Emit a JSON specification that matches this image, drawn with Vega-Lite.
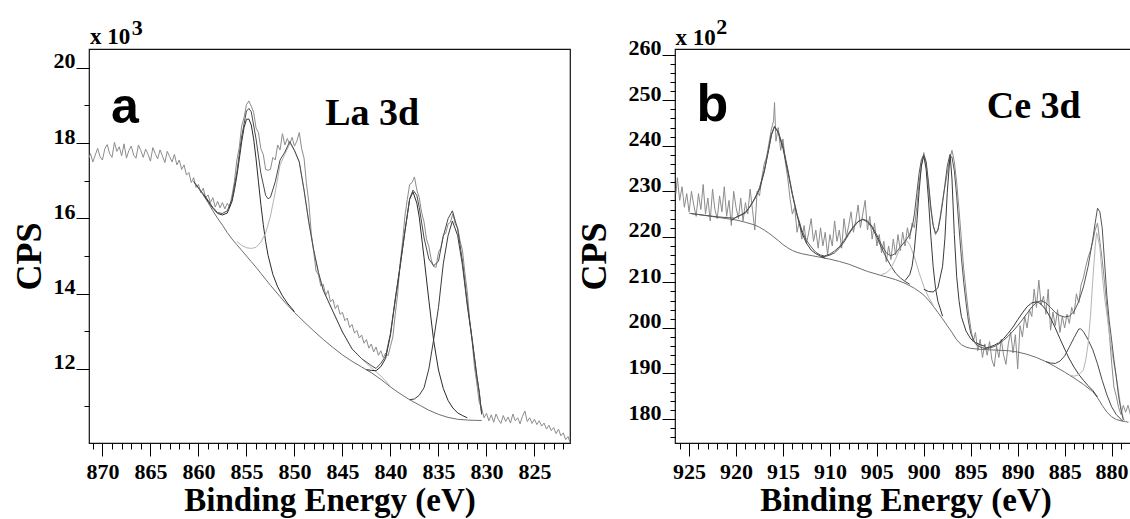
{
  "$schema": "https://vega.github.io/schema/vega-lite/v6.json",
  "background": "white",
  "padding": {"left": 10, "top": 15, "right": 0, "bottom": 0},
  "spacing": 2,
  "resolve": {"scale": {"color": "independent"}},
  "config": {
    "view": {"stroke": "#111", "strokeWidth": 1.2},
    "axis": {
      "labelFont": "Liberation Serif", "labelFontWeight": "bold", "labelFontSize": 22, "labelColor": "#000",
      "titleFont": "Liberation Serif", "titleFontWeight": "bold", "titleColor": "#000",
      "tickColor": "#000", "tickWidth": 1, "grid": false, "domain": false,
      "labelOverlap": false, "labelFlush": false, "tickCount": 200, "format": "d"
    }
  },
  "datasets": {
    "aRaw": [
      {"e":871.4,"v":17.6},{"e":871.25,"v":17.72},{"e":871,"v":17.5},{"e":870.75,"v":17.68},{"e":870.5,"v":17.86},{"e":870.25,"v":17.64},{"e":870,"v":17.55},{"e":869.75,"v":17.85},{"e":869.5,"v":17.96},{"e":869.25,"v":17.72},{"e":869,"v":17.62},{"e":868.75,"v":18.02},{"e":868.5,"v":17.78},{"e":868.25,"v":17.9},{"e":868,"v":17.66},{"e":867.75,"v":17.98},{"e":867.5,"v":17.6},{"e":867.25,"v":17.8},{"e":867,"v":17.92},{"e":866.75,"v":17.68},{"e":866.5,"v":17.6},{"e":866.25,"v":17.95},{"e":866,"v":17.8},{"e":865.75,"v":17.62},{"e":865.5,"v":17.84},{"e":865.25,"v":17.7},{"e":865,"v":17.52},{"e":864.75,"v":17.88},{"e":864.5,"v":17.72},{"e":864.25,"v":17.58},{"e":864,"v":17.82},{"e":863.75,"v":17.66},{"e":863.5,"v":17.48},{"e":863.25,"v":17.78},{"e":863,"v":17.64},{"e":862.75,"v":17.5},{"e":862.5,"v":17.7},{"e":862.25,"v":17.42},{"e":862,"v":17.55},{"e":861.75,"v":17.3},{"e":861.5,"v":17.42},{"e":861.25,"v":17.15},{"e":861,"v":17.22},{"e":860.75,"v":16.95},{"e":860.5,"v":17.08},{"e":860.25,"v":16.82},{"e":860,"v":16.9},{"e":859.75,"v":16.68},{"e":859.5,"v":16.8},{"e":859.25,"v":16.55},{"e":859,"v":16.62},{"e":858.75,"v":16.42},{"e":858.5,"v":16.55},{"e":858.25,"v":16.3},{"e":858,"v":16.45},{"e":857.75,"v":16.28},{"e":857.5,"v":16.42},{"e":857.25,"v":16.25},{"e":857,"v":16.4},{"e":856.75,"v":16.3},{"e":856.5,"v":16.62},{"e":856.25,"v":16.98},{"e":856,"v":17.55},{"e":855.75,"v":17.88},{"e":855.5,"v":18.45},{"e":855.25,"v":18.68},{"e":855,"v":19.02},{"e":854.75,"v":19.12},{"e":854.5,"v":18.98},{"e":854.25,"v":18.82},{"e":854,"v":18.4},{"e":853.75,"v":18.28},{"e":853.5,"v":17.85},{"e":853.25,"v":17.7},{"e":853,"v":17.3},{"e":852.75,"v":17.28},{"e":852.5,"v":17.3},{"e":852.25,"v":17.62},{"e":852,"v":17.55},{"e":851.75,"v":17.95},{"e":851.5,"v":17.82},{"e":851.25,"v":18.25},{"e":851,"v":17.95},{"e":850.75,"v":18.12},{"e":850.5,"v":17.98},{"e":850.25,"v":18.15},{"e":850,"v":17.92},{"e":849.75,"v":18.05},{"e":849.5,"v":18.28},{"e":849.25,"v":17.85},{"e":849,"v":17.6},{"e":848.75,"v":16.92},{"e":848.5,"v":16.42},{"e":848.25,"v":15.6},{"e":848,"v":15.12},{"e":847.75,"v":14.6},{"e":847.5,"v":14.5},{"e":847.25,"v":14.2},{"e":847,"v":14.25},{"e":846.75,"v":13.95},{"e":846.5,"v":14.08},{"e":846.25,"v":13.78},{"e":846,"v":13.85},{"e":845.75,"v":13.6},{"e":845.5,"v":13.7},{"e":845.25,"v":13.45},{"e":845,"v":13.5},{"e":844.75,"v":13.28},{"e":844.5,"v":13.35},{"e":844.25,"v":13.1},{"e":844,"v":13.18},{"e":843.75,"v":12.95},{"e":843.5,"v":13.02},{"e":843.25,"v":12.82},{"e":843,"v":12.9},{"e":842.75,"v":12.68},{"e":842.5,"v":12.78},{"e":842.25,"v":12.55},{"e":842,"v":12.66},{"e":841.75,"v":12.45},{"e":841.5,"v":12.58},{"e":841.25,"v":12.36},{"e":841,"v":12.48},{"e":840.75,"v":12.3},{"e":840.5,"v":12.42},{"e":840.25,"v":12.35},{"e":840,"v":12.6},{"e":839.75,"v":12.85},{"e":839.5,"v":13.45},{"e":839.25,"v":14.0},{"e":839,"v":14.8},{"e":838.75,"v":15.35},{"e":838.5,"v":16.05},{"e":838.25,"v":16.5},{"e":838,"v":16.9},{"e":837.75,"v":16.95},{"e":837.5,"v":17.1},{"e":837.25,"v":16.75},{"e":837,"v":16.55},{"e":836.75,"v":16.15},{"e":836.5,"v":15.9},{"e":836.25,"v":15.45},{"e":836,"v":15.25},{"e":835.75,"v":14.9},{"e":835.5,"v":14.72},{"e":835.25,"v":14.7},{"e":835,"v":15.1},{"e":834.75,"v":15.22},{"e":834.5,"v":15.55},{"e":834.25,"v":15.6},{"e":834,"v":15.85},{"e":833.75,"v":15.9},{"e":833.5,"v":16.12},{"e":833.25,"v":15.85},{"e":833,"v":15.75},{"e":832.75,"v":15.4},{"e":832.5,"v":15.15},{"e":832.25,"v":14.55},{"e":832,"v":14.05},{"e":831.75,"v":13.3},{"e":831.5,"v":12.75},{"e":831.25,"v":12.05},{"e":831,"v":11.6},{"e":830.75,"v":11.1},{"e":830.5,"v":10.95},{"e":830.25,"v":10.7},{"e":830,"v":10.82},{"e":829.75,"v":10.62},{"e":829.5,"v":10.78},{"e":829.25,"v":10.58},{"e":829,"v":10.8},{"e":828.75,"v":10.65},{"e":828.5,"v":10.55},{"e":828.25,"v":10.76},{"e":828,"v":10.6},{"e":827.75,"v":10.72},{"e":827.5,"v":10.56},{"e":827.25,"v":10.8},{"e":827,"v":10.62},{"e":826.75,"v":10.7},{"e":826.5,"v":10.54},{"e":826.25,"v":10.74},{"e":826,"v":10.88},{"e":825.75,"v":10.6},{"e":825.5,"v":10.7},{"e":825.25,"v":10.55},{"e":825,"v":10.66},{"e":824.75,"v":10.52},{"e":824.5,"v":10.62},{"e":824.25,"v":10.48},{"e":824,"v":10.56},{"e":823.75,"v":10.4},{"e":823.5,"v":10.5},{"e":823.25,"v":10.36},{"e":823,"v":10.44},{"e":822.75,"v":10.28},{"e":822.5,"v":10.4},{"e":822.25,"v":10.22},{"e":822,"v":10.3},{"e":821.75,"v":10.12},{"e":821.5,"v":10.2},{"e":821.3,"v":10.05}
    ],
    "aFit": [
      {"s":"bg","e":860.5,"v":16.98},{"s":"bg","e":860,"v":16.8},{"s":"bg","e":859.5,"v":16.62},{"s":"bg","e":859,"v":16.42},{"s":"bg","e":858.5,"v":16.2},{"s":"bg","e":858,"v":16.0},{"s":"bg","e":857.5,"v":15.82},{"s":"bg","e":857,"v":15.62},{"s":"bg","e":856.5,"v":15.45},{"s":"bg","e":856,"v":15.3},{"s":"bg","e":855.5,"v":15.15},{"s":"bg","e":855,"v":15.0},{"s":"bg","e":854.5,"v":14.85},{"s":"bg","e":854,"v":14.7},{"s":"bg","e":853.5,"v":14.54},{"s":"bg","e":853,"v":14.38},{"s":"bg","e":852.5,"v":14.22},{"s":"bg","e":852,"v":14.07},{"s":"bg","e":851.5,"v":13.92},{"s":"bg","e":851,"v":13.77},{"s":"bg","e":850,"v":13.5},{"s":"bg","e":849,"v":13.25},{"s":"bg","e":848,"v":13.01},{"s":"bg","e":847,"v":12.78},{"s":"bg","e":846,"v":12.57},{"s":"bg","e":845,"v":12.37},{"s":"bg","e":844,"v":12.2},{"s":"bg","e":843,"v":12.05},{"s":"bg","e":842,"v":11.9},{"s":"bg","e":841,"v":11.72},{"s":"bg","e":840,"v":11.52},{"s":"bg","e":839,"v":11.34},{"s":"bg","e":838,"v":11.18},{"s":"bg","e":837,"v":11.04},{"s":"bg","e":836,"v":10.9},{"s":"bg","e":835,"v":10.79},{"s":"bg","e":834,"v":10.71},{"s":"bg","e":833,"v":10.66},{"s":"bg","e":832,"v":10.64},{"s":"bg","e":831,"v":10.63},{"s":"bg","e":830.5,"v":10.63},
      {"s":"p1","e":859.5,"v":16.64},{"s":"p1","e":858.5,"v":16.27},{"s":"p1","e":858,"v":16.13},{"s":"p1","e":857.5,"v":16.09},{"s":"p1","e":857,"v":16.14},{"s":"p1","e":856.5,"v":16.45},{"s":"p1","e":856.25,"v":16.76},{"s":"p1","e":856,"v":17.13},{"s":"p1","e":855.75,"v":17.57},{"s":"p1","e":855.5,"v":18.03},{"s":"p1","e":855.25,"v":18.41},{"s":"p1","e":855,"v":18.63},{"s":"p1","e":854.75,"v":18.64},{"s":"p1","e":854.5,"v":18.48},{"s":"p1","e":854.25,"v":18.11},{"s":"p1","e":854,"v":17.58},{"s":"p1","e":853.75,"v":16.97},{"s":"p1","e":853.5,"v":16.37},{"s":"p1","e":853.25,"v":15.84},{"s":"p1","e":853,"v":15.38},{"s":"p1","e":852.75,"v":15.02},{"s":"p1","e":852.25,"v":14.51},{"s":"p1","e":851.75,"v":14.18},{"s":"p1","e":851.25,"v":13.94},{"s":"p1","e":850.75,"v":13.75},{"s":"p1","e":850,"v":13.52},
      {"s":"p2","e":856,"v":15.39},{"s":"p2","e":855.5,"v":15.28},{"s":"p2","e":855,"v":15.22},{"s":"p2","e":854.5,"v":15.2},{"s":"p2","e":854,"v":15.23},{"s":"p2","e":853.5,"v":15.37},{"s":"p2","e":853,"v":15.61},{"s":"p2","e":852.5,"v":16.06},{"s":"p2","e":852,"v":16.7},{"s":"p2","e":851.5,"v":17.42},{"s":"p2","e":851,"v":17.7},{"s":"p2","e":850.45,"v":18.0},{"s":"p2","e":850,"v":17.79},{"s":"p2","e":849.5,"v":17.5},{"s":"p2","e":849,"v":16.75},{"s":"p2","e":848.5,"v":15.89},{"s":"p2","e":848,"v":15.16},{"s":"p2","e":847.5,"v":14.56},{"s":"p2","e":847,"v":14.09},{"s":"p2","e":846.5,"v":13.81},{"s":"p2","e":846,"v":13.53},{"s":"p2","e":845,"v":12.98},{"s":"p2","e":844,"v":12.53},{"s":"p2","e":843,"v":12.27},{"s":"p2","e":842,"v":12.03},{"s":"p2","e":841,"v":11.81},{"s":"p2","e":840,"v":11.54},
      {"s":"p3","e":842.5,"v":11.98},{"s":"p3","e":842,"v":11.96},{"s":"p3","e":841.5,"v":11.95},{"s":"p3","e":841,"v":12.06},{"s":"p3","e":840.5,"v":12.28},{"s":"p3","e":840,"v":12.9},{"s":"p3","e":839.5,"v":13.83},{"s":"p3","e":839,"v":14.71},{"s":"p3","e":838.5,"v":15.64},{"s":"p3","e":838,"v":16.51},{"s":"p3","e":837.65,"v":16.7},{"s":"p3","e":837.25,"v":16.4},{"s":"p3","e":837,"v":16.03},{"s":"p3","e":836.5,"v":14.95},{"s":"p3","e":836,"v":13.82},{"s":"p3","e":835.5,"v":12.75},{"s":"p3","e":835,"v":11.97},{"s":"p3","e":834.5,"v":11.48},{"s":"p3","e":834,"v":11.16},{"s":"p3","e":833.5,"v":10.96},{"s":"p3","e":833,"v":10.83},{"s":"p3","e":832.5,"v":10.76},{"s":"p3","e":832,"v":10.7},
      {"s":"p4","e":838,"v":11.18},{"s":"p4","e":837.5,"v":11.2},{"s":"p4","e":837,"v":11.3},{"s":"p4","e":836.5,"v":11.5},{"s":"p4","e":836,"v":12.0},{"s":"p4","e":835.5,"v":12.78},{"s":"p4","e":835,"v":13.63},{"s":"p4","e":834.5,"v":14.79},{"s":"p4","e":834,"v":15.54},{"s":"p4","e":833.55,"v":15.93},{"s":"p4","e":833,"v":15.54},{"s":"p4","e":832.5,"v":14.75},{"s":"p4","e":832,"v":13.69},{"s":"p4","e":831.5,"v":12.78},{"s":"p4","e":831,"v":11.79},{"s":"p4","e":830.75,"v":11.37},{"s":"p4","e":830.5,"v":10.79},
      {"s":"env","e":860.5,"v":16.98},{"s":"env","e":860,"v":16.81},{"s":"env","e":859.5,"v":16.65},{"s":"env","e":859,"v":16.48},{"s":"env","e":858.5,"v":16.29},{"s":"env","e":858,"v":16.15},{"s":"env","e":857.5,"v":16.13},{"s":"env","e":857,"v":16.2},{"s":"env","e":856.5,"v":16.51},{"s":"env","e":856,"v":17.22},{"s":"env","e":855.5,"v":18.16},{"s":"env","e":855,"v":18.85},{"s":"env","e":854.75,"v":18.92},{"s":"env","e":854.5,"v":18.83},{"s":"env","e":854,"v":18.11},{"s":"env","e":853.5,"v":17.2},{"s":"env","e":853,"v":16.61},{"s":"env","e":852.75,"v":16.52},{"s":"env","e":852.5,"v":16.56},{"s":"env","e":852,"v":16.97},{"s":"env","e":851.5,"v":17.55},{"s":"env","e":851,"v":17.76},{"s":"env","e":850.5,"v":18.04},{"s":"env","e":850,"v":17.81},{"s":"env","e":849.5,"v":17.5},{"s":"env","e":849,"v":16.75},{"s":"env","e":848.5,"v":15.89},{"s":"env","e":848,"v":15.16},{"s":"env","e":847.5,"v":14.56},{"s":"env","e":847,"v":14.09},{"s":"env","e":846.5,"v":13.81},{"s":"env","e":846,"v":13.53},{"s":"env","e":845,"v":12.98},{"s":"env","e":844,"v":12.53},{"s":"env","e":843,"v":12.27},{"s":"env","e":842,"v":12.09},{"s":"env","e":841.5,"v":12.01},{"s":"env","e":841,"v":12.15},{"s":"env","e":840.5,"v":12.34},{"s":"env","e":840,"v":12.94},{"s":"env","e":839.5,"v":13.86},{"s":"env","e":839,"v":14.73},{"s":"env","e":838.5,"v":15.65},{"s":"env","e":838,"v":16.52},{"s":"env","e":837.65,"v":16.75},{"s":"env","e":837.25,"v":16.61},{"s":"env","e":837,"v":16.29},{"s":"env","e":836.5,"v":15.48},{"s":"env","e":836,"v":14.92},{"s":"env","e":835.5,"v":14.74},{"s":"env","e":835,"v":14.86},{"s":"env","e":834.5,"v":15.52},{"s":"env","e":834,"v":15.99},{"s":"env","e":833.55,"v":16.2},{"s":"env","e":833,"v":15.71},{"s":"env","e":832.5,"v":14.86},{"s":"env","e":832,"v":13.75},{"s":"env","e":831.5,"v":12.81},{"s":"env","e":831,"v":11.81},{"s":"env","e":830.75,"v":11.38},{"s":"env","e":830.5,"v":10.8}
    ],
    "bRaw": [
      {"e":926.4,"v":229.5},{"e":926.25,"v":233.0},{"e":926,"v":228.0},{"e":925.75,"v":231.0},{"e":925.5,"v":226.5},{"e":925.25,"v":229.5},{"e":925,"v":225.5},{"e":924.75,"v":230.0},{"e":924.5,"v":227.0},{"e":924.25,"v":224.5},{"e":924,"v":229.5},{"e":923.75,"v":226.0},{"e":923.5,"v":231.5},{"e":923.25,"v":225.0},{"e":923,"v":228.5},{"e":922.75,"v":223.5},{"e":922.5,"v":230.5},{"e":922.25,"v":226.0},{"e":922,"v":224.0},{"e":921.75,"v":229.0},{"e":921.5,"v":225.5},{"e":921.25,"v":231.0},{"e":921,"v":224.5},{"e":920.75,"v":228.0},{"e":920.5,"v":222.5},{"e":920.25,"v":230.0},{"e":920,"v":226.5},{"e":919.75,"v":224.0},{"e":919.5,"v":228.5},{"e":919.25,"v":223.5},{"e":919,"v":227.5},{"e":918.75,"v":225.0},{"e":918.5,"v":230.5},{"e":918.25,"v":226.0},{"e":918,"v":221.5},{"e":917.75,"v":230.0},{"e":917.5,"v":229.0},{"e":917.25,"v":233.0},{"e":917,"v":236.0},{"e":916.75,"v":237.5},{"e":916.5,"v":240.5},{"e":916.25,"v":243.5},{"e":916,"v":245.5},{"e":915.9,"v":249.5},{"e":915.75,"v":241.0},{"e":915.5,"v":244.0},{"e":915.25,"v":239.0},{"e":915,"v":241.5},{"e":914.75,"v":236.5},{"e":914.5,"v":233.0},{"e":914.25,"v":228.5},{"e":914,"v":225.0},{"e":913.75,"v":226.5},{"e":913.5,"v":221.0},{"e":913.25,"v":223.5},{"e":913,"v":219.5},{"e":912.75,"v":222.5},{"e":912.5,"v":218.5},{"e":912.25,"v":221.0},{"e":912,"v":224.0},{"e":911.75,"v":219.0},{"e":911.5,"v":221.5},{"e":911.25,"v":217.5},{"e":911,"v":222.0},{"e":910.75,"v":218.0},{"e":910.5,"v":221.0},{"e":910.25,"v":216.0},{"e":910,"v":220.5},{"e":909.75,"v":218.0},{"e":909.5,"v":223.5},{"e":909.25,"v":219.0},{"e":909,"v":221.5},{"e":908.75,"v":217.5},{"e":908.5,"v":224.0},{"e":908.25,"v":220.0},{"e":908,"v":222.5},{"e":907.75,"v":225.5},{"e":907.5,"v":221.0},{"e":907.25,"v":223.5},{"e":907,"v":227.0},{"e":906.75,"v":222.0},{"e":906.5,"v":225.0},{"e":906.25,"v":228.0},{"e":906,"v":221.5},{"e":905.75,"v":224.5},{"e":905.5,"v":219.5},{"e":905.25,"v":223.0},{"e":905,"v":218.0},{"e":904.75,"v":220.5},{"e":904.5,"v":216.5},{"e":904.25,"v":219.0},{"e":904,"v":214.5},{"e":903.75,"v":218.0},{"e":903.5,"v":215.0},{"e":903.25,"v":219.5},{"e":903,"v":216.0},{"e":902.75,"v":220.5},{"e":902.5,"v":217.0},{"e":902.25,"v":221.0},{"e":902,"v":218.0},{"e":901.75,"v":222.0},{"e":901.5,"v":219.5},{"e":901.25,"v":223.0},{"e":901,"v":222.0},{"e":900.75,"v":226.5},{"e":900.5,"v":232.0},{"e":900.25,"v":235.5},{"e":900,"v":238.5},{"e":899.75,"v":236.0},{"e":899.5,"v":231.0},{"e":899.25,"v":226.0},{"e":899,"v":222.5},{"e":898.75,"v":220.5},{"e":898.5,"v":221.5},{"e":898.25,"v":224.5},{"e":898,"v":228.0},{"e":897.75,"v":231.0},{"e":897.5,"v":234.0},{"e":897.25,"v":237.0},{"e":897,"v":239.0},{"e":896.75,"v":236.5},{"e":896.5,"v":232.0},{"e":896.25,"v":226.0},{"e":896,"v":219.5},{"e":895.75,"v":213.0},{"e":895.5,"v":208.0},{"e":895.25,"v":203.5},{"e":895,"v":200.0},{"e":894.75,"v":197.0},{"e":894.5,"v":199.0},{"e":894.25,"v":195.0},{"e":894,"v":197.5},{"e":893.75,"v":193.5},{"e":893.5,"v":196.5},{"e":893.25,"v":194.0},{"e":893,"v":197.0},{"e":892.75,"v":193.0},{"e":892.5,"v":191.5},{"e":892.25,"v":196.0},{"e":892,"v":193.5},{"e":891.75,"v":197.5},{"e":891.5,"v":194.0},{"e":891.25,"v":192.0},{"e":891,"v":196.5},{"e":890.75,"v":199.0},{"e":890.5,"v":194.5},{"e":890.25,"v":198.5},{"e":890,"v":191.0},{"e":889.75,"v":200.5},{"e":889.5,"v":198.0},{"e":889.25,"v":202.5},{"e":889,"v":200.0},{"e":888.75,"v":204.0},{"e":888.5,"v":202.5},{"e":888.25,"v":208.5},{"e":888,"v":204.5},{"e":887.75,"v":210.5},{"e":887.5,"v":205.0},{"e":887.25,"v":207.0},{"e":887,"v":203.0},{"e":886.75,"v":208.5},{"e":886.5,"v":199.5},{"e":886.25,"v":203.5},{"e":886,"v":200.5},{"e":885.75,"v":204.0},{"e":885.5,"v":199.0},{"e":885.25,"v":202.5},{"e":885,"v":200.0},{"e":884.75,"v":203.0},{"e":884.5,"v":201.0},{"e":884.25,"v":204.5},{"e":884,"v":203.0},{"e":883.75,"v":207.5},{"e":883.5,"v":205.5},{"e":883.25,"v":209.5},{"e":883,"v":211.0},{"e":882.75,"v":213.5},{"e":882.5,"v":215.5},{"e":882.25,"v":217.0},{"e":882,"v":219.0},{"e":881.75,"v":221.5},{"e":881.5,"v":223.0},{"e":881.25,"v":219.0},{"e":881,"v":215.0},{"e":880.75,"v":210.0},{"e":880.5,"v":204.5},{"e":880.25,"v":199.0},{"e":880,"v":192.5},{"e":879.75,"v":187.0},{"e":879.5,"v":185.0},{"e":879.25,"v":182.5},{"e":879,"v":181.0},{"e":878.75,"v":183.0},{"e":878.5,"v":181.5},{"e":878.25,"v":183.0},{"e":878,"v":181.0},{"e":877.75,"v":182.5},{"e":877.5,"v":179.5},{"e":877.3,"v":174.8}
    ],
    "bFit": [
      {"s":"bg","e":925,"v":225.2},{"s":"bg","e":924,"v":224.9},{"s":"bg","e":923,"v":224.6},{"s":"bg","e":922,"v":224.3},{"s":"bg","e":921,"v":224.0},{"s":"bg","e":920,"v":223.7},{"s":"bg","e":919,"v":223.2},{"s":"bg","e":918,"v":222.6},{"s":"bg","e":917.5,"v":222.1},{"s":"bg","e":917,"v":221.5},{"s":"bg","e":916.5,"v":220.8},{"s":"bg","e":916,"v":220.0},{"s":"bg","e":915.5,"v":219.2},{"s":"bg","e":915,"v":218.3},{"s":"bg","e":914.5,"v":217.6},{"s":"bg","e":914,"v":217.0},{"s":"bg","e":913.5,"v":216.6},{"s":"bg","e":913,"v":216.3},{"s":"bg","e":912,"v":215.9},{"s":"bg","e":911,"v":215.5},{"s":"bg","e":910,"v":215.1},{"s":"bg","e":909,"v":214.6},{"s":"bg","e":908,"v":214.0},{"s":"bg","e":907,"v":213.2},{"s":"bg","e":906,"v":212.4},{"s":"bg","e":905,"v":211.8},{"s":"bg","e":904,"v":211.2},{"s":"bg","e":903,"v":210.6},{"s":"bg","e":902,"v":209.8},{"s":"bg","e":901,"v":208.7},{"s":"bg","e":900.5,"v":208.0},{"s":"bg","e":900,"v":207.2},{"s":"bg","e":899.5,"v":206.1},{"s":"bg","e":899,"v":204.8},{"s":"bg","e":898.5,"v":203.4},{"s":"bg","e":898,"v":202.0},{"s":"bg","e":897.5,"v":200.5},{"s":"bg","e":897,"v":199.0},{"s":"bg","e":896.5,"v":197.4},{"s":"bg","e":896,"v":196.3},{"s":"bg","e":895.5,"v":195.8},{"s":"bg","e":895,"v":195.5},{"s":"bg","e":894,"v":195.3},{"s":"bg","e":893,"v":195.2},{"s":"bg","e":892,"v":195.1},{"s":"bg","e":891,"v":195.0},{"s":"bg","e":890,"v":194.7},{"s":"bg","e":889,"v":194.2},{"s":"bg","e":888,"v":193.5},{"s":"bg","e":887,"v":192.6},{"s":"bg","e":886,"v":191.5},{"s":"bg","e":885,"v":190.3},{"s":"bg","e":884,"v":189.0},{"s":"bg","e":883,"v":187.6},{"s":"bg","e":882,"v":186.0},{"s":"bg","e":881.5,"v":184.7},{"s":"bg","e":881,"v":183.0},{"s":"bg","e":880.5,"v":181.5},{"s":"bg","e":880,"v":180.5},{"s":"bg","e":879.5,"v":179.9},{"s":"bg","e":879,"v":179.6},{"s":"bg","e":878.5,"v":179.4},{"s":"bg","e":878.2,"v":179.3},
      {"s":"c1","e":920.5,"v":223.6},{"s":"c1","e":920,"v":224.3},{"s":"c1","e":919.5,"v":224.8},{"s":"c1","e":919,"v":225.4},{"s":"c1","e":918.5,"v":226.6},{"s":"c1","e":918,"v":228.5},{"s":"c1","e":917.5,"v":230.4},{"s":"c1","e":917,"v":234.2},{"s":"c1","e":916.5,"v":239.4},{"s":"c1","e":916.25,"v":242.4},{"s":"c1","e":915.9,"v":244.2},{"s":"c1","e":915.5,"v":242.9},{"s":"c1","e":915,"v":239.4},{"s":"c1","e":914.5,"v":234.5},{"s":"c1","e":914,"v":229.25},{"s":"c1","e":913.5,"v":224.7},{"s":"c1","e":913,"v":220.96},{"s":"c1","e":912.5,"v":218.6},{"s":"c1","e":912,"v":217.1},{"s":"c1","e":911.5,"v":216.3},{"s":"c1","e":911,"v":215.75},{"s":"c1","e":910.5,"v":215.3},
      {"s":"c2","e":911,"v":215.7},{"s":"c2","e":910.5,"v":215.7},{"s":"c2","e":910,"v":216.0},{"s":"c2","e":909.5,"v":216.5},{"s":"c2","e":909,"v":217.5},{"s":"c2","e":908.5,"v":218.85},{"s":"c2","e":908,"v":220.55},{"s":"c2","e":907.5,"v":222.1},{"s":"c2","e":907,"v":223.3},{"s":"c2","e":906.5,"v":223.8},{"s":"c2","e":906,"v":223.3},{"s":"c2","e":905.5,"v":222.0},{"s":"c2","e":905,"v":219.9},{"s":"c2","e":904.5,"v":217.6},{"s":"c2","e":904,"v":215.4},{"s":"c2","e":903.5,"v":213.6},{"s":"c2","e":903,"v":212.0},{"s":"c2","e":902.5,"v":211.0},{"s":"c2","e":902,"v":210.2},{"s":"c2","e":901.5,"v":209.6},
      {"s":"c3","e":904.5,"v":211.75},{"s":"c3","e":904,"v":212.05},{"s":"c3","e":903.5,"v":213.1},{"s":"c3","e":903,"v":215.2},{"s":"c3","e":902.5,"v":217.6},{"s":"c3","e":902,"v":219.1},{"s":"c3","e":901.8,"v":219.1},{"s":"c3","e":901.5,"v":218.3},{"s":"c3","e":901,"v":215.6},{"s":"c3","e":900.5,"v":212.1},{"s":"c3","e":900,"v":209.1},{"s":"c3","e":899.5,"v":206.8},{"s":"c3","e":899,"v":205.0},
      {"s":"c4","e":902,"v":210.4},{"s":"c4","e":901.5,"v":211.7},{"s":"c4","e":901.25,"v":213.55},{"s":"c4","e":901,"v":217.3},{"s":"c4","e":900.75,"v":223.0},{"s":"c4","e":900.5,"v":230.0},{"s":"c4","e":900.25,"v":235.75},{"s":"c4","e":900,"v":237.8},{"s":"c4","e":899.75,"v":234.8},{"s":"c4","e":899.5,"v":228.1},{"s":"c4","e":899.25,"v":220.15},{"s":"c4","e":899,"v":213.4},{"s":"c4","e":898.75,"v":208.7},{"s":"c4","e":898.5,"v":205.85},{"s":"c4","e":898,"v":202.6},
      {"s":"c5","e":900,"v":208.5},{"s":"c5","e":899.5,"v":208.0},{"s":"c5","e":899,"v":207.9},{"s":"c5","e":898.5,"v":208.8},{"s":"c5","e":898,"v":213.55},{"s":"c5","e":897.75,"v":219.7},{"s":"c5","e":897.5,"v":229.8},{"s":"c5","e":897.2,"v":238.1},{"s":"c5","e":897,"v":232.7},{"s":"c5","e":896.75,"v":220.5},{"s":"c5","e":896.5,"v":211.3},{"s":"c5","e":896.25,"v":206.0},{"s":"c5","e":896,"v":202.5},{"s":"c5","e":895.5,"v":199.3},{"s":"c5","e":895,"v":197.6},{"s":"c5","e":894.5,"v":196.8},{"s":"c5","e":894,"v":196.3},{"s":"c5","e":893.5,"v":196.0},
      {"s":"c6","e":893.5,"v":195.55},{"s":"c6","e":893,"v":195.8},{"s":"c6","e":892.5,"v":196.2},{"s":"c6","e":892,"v":196.75},{"s":"c6","e":891.5,"v":197.66},{"s":"c6","e":891,"v":198.85},{"s":"c6","e":890.5,"v":200.2},{"s":"c6","e":890,"v":201.8},{"s":"c6","e":889.5,"v":203.3},{"s":"c6","e":889,"v":204.65},{"s":"c6","e":888.5,"v":205.5},{"s":"c6","e":888,"v":205.74},{"s":"c6","e":887.8,"v":205.6},{"s":"c6","e":887.5,"v":205.2},{"s":"c6","e":887,"v":204.0},{"s":"c6","e":886.5,"v":202.2},{"s":"c6","e":886,"v":200.0},{"s":"c6","e":885.5,"v":197.65},{"s":"c6","e":885,"v":195.36},{"s":"c6","e":884.5,"v":193.2},{"s":"c6","e":884,"v":191.4},{"s":"c6","e":883.5,"v":189.8},{"s":"c6","e":883,"v":188.5},{"s":"c6","e":882.5,"v":187.3},{"s":"c6","e":882,"v":186.27},{"s":"c6","e":881.5,"v":184.8},
      {"s":"c7","e":887,"v":192.6},{"s":"c7","e":886.5,"v":192.3},{"s":"c7","e":886,"v":192.2},{"s":"c7","e":885.5,"v":192.7},{"s":"c7","e":885,"v":193.85},{"s":"c7","e":884.5,"v":195.8},{"s":"c7","e":884,"v":197.85},{"s":"c7","e":883.5,"v":199.75},{"s":"c7","e":883.3,"v":199.8},{"s":"c7","e":883,"v":199.2},{"s":"c7","e":882.5,"v":197.4},{"s":"c7","e":882,"v":195.2},{"s":"c7","e":881.5,"v":192.1},{"s":"c7","e":881,"v":188.5},{"s":"c7","e":880.5,"v":185.3},{"s":"c7","e":880,"v":182.7},{"s":"c7","e":879.5,"v":180.95},{"s":"c7","e":879,"v":179.95},{"s":"c7","e":878.8,"v":179.5},
      {"s":"c8","e":884.5,"v":189.65},{"s":"c8","e":884,"v":189.4},{"s":"c8","e":883.5,"v":189.7},{"s":"c8","e":883,"v":190.8},{"s":"c8","e":882.75,"v":193.0},{"s":"c8","e":882.5,"v":196.5},{"s":"c8","e":882.25,"v":202.6},{"s":"c8","e":882,"v":210.5},{"s":"c8","e":881.75,"v":217.8},{"s":"c8","e":881.6,"v":220.9},{"s":"c8","e":881.5,"v":220.3},{"s":"c8","e":881.25,"v":217.7},{"s":"c8","e":881,"v":211.8},{"s":"c8","e":880.75,"v":206.7},{"s":"c8","e":880.5,"v":203.1},{"s":"c8","e":880.25,"v":199.0},{"s":"c8","e":880,"v":195.3},{"s":"c8","e":879.75,"v":192.1},{"s":"c8","e":879.5,"v":189.3},{"s":"c8","e":879.25,"v":185.9},{"s":"c8","e":879,"v":182.5},{"s":"c8","e":878.75,"v":180.2},{"s":"c8","e":878.6,"v":179.45},
      {"s":"env","e":924.8,"v":225.1},{"s":"env","e":922,"v":224.4},{"s":"env","e":920.2,"v":224.1},{"s":"env","e":919,"v":225.2},{"s":"env","e":918,"v":228.3},{"s":"env","e":917.5,"v":230.8},{"s":"env","e":917,"v":234.5},{"s":"env","e":916.5,"v":239.5},{"s":"env","e":916.2,"v":242.5},{"s":"env","e":915.9,"v":244.3},{"s":"env","e":915.5,"v":243.0},{"s":"env","e":915,"v":240.0},{"s":"env","e":914.5,"v":235.0},{"s":"env","e":914,"v":229.5},{"s":"env","e":913.5,"v":225.0},{"s":"env","e":913,"v":221.5},{"s":"env","e":912.5,"v":219.2},{"s":"env","e":912,"v":217.8},{"s":"env","e":911.5,"v":216.6},{"s":"env","e":911,"v":216.0},{"s":"env","e":910.6,"v":215.8},{"s":"env","e":910,"v":216.2},{"s":"env","e":909.5,"v":216.9},{"s":"env","e":909,"v":217.8},{"s":"env","e":908.5,"v":219.2},{"s":"env","e":908,"v":220.8},{"s":"env","e":907.5,"v":222.3},{"s":"env","e":907,"v":223.4},{"s":"env","e":906.5,"v":223.9},{"s":"env","e":906,"v":223.5},{"s":"env","e":905.5,"v":222.3},{"s":"env","e":905,"v":220.4},{"s":"env","e":904.5,"v":218.2},{"s":"env","e":904,"v":216.5},{"s":"env","e":903.5,"v":215.8},{"s":"env","e":903,"v":216.4},{"s":"env","e":902.5,"v":217.8},{"s":"env","e":902,"v":219.0},{"s":"env","e":901.5,"v":220.5},{"s":"env","e":901.2,"v":222.5},{"s":"env","e":901,"v":225.0},{"s":"env","e":900.75,"v":229.5},{"s":"env","e":900.5,"v":234.0},{"s":"env","e":900.25,"v":237.0},{"s":"env","e":900,"v":238.0},{"s":"env","e":899.75,"v":236.5},{"s":"env","e":899.5,"v":232.0},{"s":"env","e":899.25,"v":226.5},{"s":"env","e":899,"v":222.5},{"s":"env","e":898.75,"v":220.8},{"s":"env","e":898.5,"v":221.5},{"s":"env","e":898.25,"v":224.0},{"s":"env","e":898,"v":227.5},{"s":"env","e":897.75,"v":231.5},{"s":"env","e":897.5,"v":235.5},{"s":"env","e":897.25,"v":237.8},{"s":"env","e":897,"v":237.5},{"s":"env","e":896.75,"v":234.5},{"s":"env","e":896.5,"v":229.0},{"s":"env","e":896.25,"v":222.0},{"s":"env","e":896,"v":215.5},{"s":"env","e":895.75,"v":210.0},{"s":"env","e":895.5,"v":205.5},{"s":"env","e":895.25,"v":201.5},{"s":"env","e":895,"v":198.8},{"s":"env","e":894.5,"v":196.5},{"s":"env","e":894,"v":195.8},{"s":"env","e":893.5,"v":195.5},{"s":"env","e":893,"v":195.6},{"s":"env","e":892.5,"v":195.9},{"s":"env","e":892,"v":196.5},{"s":"env","e":891.5,"v":197.3},{"s":"env","e":891,"v":198.2},{"s":"env","e":890.5,"v":199.3},{"s":"env","e":890,"v":200.5},{"s":"env","e":889.5,"v":201.8},{"s":"env","e":889,"v":203.2},{"s":"env","e":888.5,"v":204.6},{"s":"env","e":888,"v":205.6},{"s":"env","e":887.5,"v":206.0},{"s":"env","e":887,"v":205.5},{"s":"env","e":886.5,"v":204.5},{"s":"env","e":886,"v":203.4},{"s":"env","e":885.5,"v":202.7},{"s":"env","e":885,"v":202.4},{"s":"env","e":884.5,"v":202.6},{"s":"env","e":884,"v":203.6},{"s":"env","e":883.5,"v":205.8},{"s":"env","e":883,"v":209.0},{"s":"env","e":882.5,"v":213.5},{"s":"env","e":882,"v":219.5},{"s":"env","e":881.75,"v":223.0},{"s":"env","e":881.5,"v":226.3},{"s":"env","e":881.25,"v":225.5},{"s":"env","e":881,"v":222.0},{"s":"env","e":880.75,"v":214.5},{"s":"env","e":880.5,"v":207.0},{"s":"env","e":880.25,"v":201.5},{"s":"env","e":880,"v":197.4},{"s":"env","e":879.75,"v":193.0},{"s":"env","e":879.5,"v":189.2},{"s":"env","e":879.25,"v":185.0},{"s":"env","e":879,"v":182.0},{"s":"env","e":878.75,"v":179.8}
    ]
  },
  "hconcat": [
    {
      "width": 481,
      "height": 394,
      "layer": [
        {
          "data": {"name": "aRaw"},
          "mark": {"type": "line", "color": "#8c8c8c", "strokeWidth": 1},
          "encoding": {
            "x": {
              "field": "e", "type": "quantitative",
              "scale": {"domain": [821.3, 871.4], "reverse": true, "nice": false, "zero": false},
              "axis": {
                "values": [822,823,824,825,826,827,828,829,830,831,832,833,834,835,836,837,838,839,840,841,842,843,844,845,846,847,848,849,850,851,852,853,854,855,856,857,858,859,860,861,862,863,864,865,866,867,868,869,870,871],
                "tickCount": 200, "format": "d",
                "labelExpr": "datum.value % 5 === 0 ? datum.label : ''",
                "tickSize": {"condition": {"test": "datum.value % 5 === 0", "value": 13}, "value": 6},
                "labelPadding": 5, "labelBaseline": "top",
                "title": "Binding Energy (eV)", "titleFontSize": 33, "titlePadding": 2
              }
            },
            "y": {
              "field": "v", "type": "quantitative",
              "scale": {"domain": [10.03, 20.5], "nice": false, "zero": false},
              "axis": {
                "values": [11,12,13,14,15,16,17,18,19,20],
                "tickCount": 200, "format": "d",
                "labelExpr": "datum.value % 2 === 0 ? datum.label : ''",
                "tickSize": {"condition": {"test": "datum.value % 2 === 0", "value": 13}, "value": 5},
                "labelBaseline": "alphabetic", "labelPadding": 1,
                "title": "CPS", "titleFontSize": 36, "titlePadding": 5, "titleY": 207
              }
            }
          }
        },
        {
          "data": {"name": "aFit"},
          "mark": {"type": "line", "strokeWidth": 1},
          "encoding": {
            "x": {"field": "e", "type": "quantitative"},
            "y": {"field": "v", "type": "quantitative"},
            "color": {"field": "s", "type": "nominal", "legend": null,
              "scale": {"domain": ["bg","p1","p2","p3","p4","env"], "range": ["#6e6e6e","#2a2a2a","#b4b4b4","#2a2a2a","#3a3a3a","#4a4a4a"]}}
          }
        },
        {
          "data": {"values": [{"e": 869.1, "v": 18.54, "t": "a"}]},
          "mark": {"type": "text", "font": "Liberation Sans", "fontWeight": "bold", "fontSize": 50, "align": "left", "baseline": "alphabetic", "color": "#000"},
          "encoding": {"x": {"field": "e", "type": "quantitative"}, "y": {"field": "v", "type": "quantitative"}, "text": {"field": "t"}}
        },
        {
          "data": {"values": [{"e": 846.8, "v": 18.49, "t": "La 3d"}]},
          "mark": {"type": "text", "font": "Liberation Serif", "fontWeight": "bold", "fontSize": 38, "align": "left", "baseline": "alphabetic", "color": "#000"},
          "encoding": {"x": {"field": "e", "type": "quantitative"}, "y": {"field": "v", "type": "quantitative"}, "text": {"field": "t"}}
        },
        {
          "data": {"values": [{"e": 871.3, "v": 20.62, "t": "x 10"}]},
          "mark": {"type": "text", "font": "Liberation Serif", "fontWeight": "bold", "fontSize": 23, "align": "left", "baseline": "alphabetic", "color": "#000"},
          "encoding": {"x": {"field": "e", "type": "quantitative"}, "y": {"field": "v", "type": "quantitative"}, "text": {"field": "t"}}
        },
        {
          "data": {"values": [{"e": 866.95, "v": 20.88, "t": "3"}]},
          "mark": {"type": "text", "font": "Liberation Serif", "fontWeight": "bold", "fontSize": 22, "align": "left", "baseline": "alphabetic", "color": "#000"},
          "encoding": {"x": {"field": "e", "type": "quantitative"}, "y": {"field": "v", "type": "quantitative"}, "text": {"field": "t"}}
        }
      ]
    },
    {
      "width": 461,
      "height": 394,
      "layer": [
        {
          "data": {"name": "bRaw"},
          "mark": {"type": "line", "color": "#8c8c8c", "strokeWidth": 1},
          "encoding": {
            "x": {
              "field": "e", "type": "quantitative",
              "scale": {"domain": [877.4, 926.5], "reverse": true, "nice": false, "zero": false},
              "axis": {
                "values": [878,879,880,881,882,883,884,885,886,887,888,889,890,891,892,893,894,895,896,897,898,899,900,901,902,903,904,905,906,907,908,909,910,911,912,913,914,915,916,917,918,919,920,921,922,923,924,925,926],
                "tickCount": 200, "format": "d",
                "labelExpr": "datum.value % 5 === 0 ? datum.label : ''",
                "tickSize": {"condition": {"test": "datum.value % 5 === 0", "value": 13}, "value": 6},
                "labelPadding": 5, "labelBaseline": "top",
                "title": "Binding Energy (eV)", "titleFontSize": 33, "titlePadding": 2
              }
            },
            "y": {
              "field": "v", "type": "quantitative",
              "scale": {"domain": [174.73, 261.25], "nice": false, "zero": false},
              "axis": {
                "values": [176,178,180,182,184,186,188,190,192,194,196,198,200,202,204,206,208,210,212,214,216,218,220,222,224,226,228,230,232,234,236,238,240,242,244,246,248,250,252,254,256,258,260],
                "tickCount": 200, "format": "d",
                "labelExpr": "datum.value % 10 === 0 ? datum.label : ''",
                "tickSize": {"condition": {"test": "datum.value % 10 === 0", "value": 13}, "value": 5},
                "labelBaseline": "alphabetic", "labelPadding": 1,
                "title": "CPS", "titleFontSize": 36, "titlePadding": 15, "titleY": 207
              }
            }
          }
        },
        {
          "data": {"name": "bFit"},
          "mark": {"type": "line", "strokeWidth": 1},
          "encoding": {
            "x": {"field": "e", "type": "quantitative"},
            "y": {"field": "v", "type": "quantitative"},
            "color": {"field": "s", "type": "nominal", "legend": null,
              "scale": {"domain": ["bg","c1","c2","c3","c4","c5","c6","c7","c8","env"], "range": ["#6e6e6e","#3a3a3a","#4a4a4a","#b4b4b4","#3a3a3a","#3a3a3a","#3a3a3a","#4a4a4a","#b4b4b4","#555555"]}}
          }
        },
        {
          "data": {"values": [{"e": 924.2, "v": 245.4, "t": "b"}]},
          "mark": {"type": "text", "font": "Liberation Sans", "fontWeight": "bold", "fontSize": 52, "align": "left", "baseline": "alphabetic", "color": "#000"},
          "encoding": {"x": {"field": "e", "type": "quantitative"}, "y": {"field": "v", "type": "quantitative"}, "text": {"field": "t"}}
        },
        {
          "data": {"values": [{"e": 893.3, "v": 246.1, "t": "Ce 3d"}]},
          "mark": {"type": "text", "font": "Liberation Serif", "fontWeight": "bold", "fontSize": 38, "align": "left", "baseline": "alphabetic", "color": "#000"},
          "encoding": {"x": {"field": "e", "type": "quantitative"}, "y": {"field": "v", "type": "quantitative"}, "text": {"field": "t"}}
        },
        {
          "data": {"values": [{"e": 926.45, "v": 262.2, "t": "x 10"}]},
          "mark": {"type": "text", "font": "Liberation Serif", "fontWeight": "bold", "fontSize": 23, "align": "left", "baseline": "alphabetic", "color": "#000"},
          "encoding": {"x": {"field": "e", "type": "quantitative"}, "y": {"field": "v", "type": "quantitative"}, "text": {"field": "t"}}
        },
        {
          "data": {"values": [{"e": 922.1, "v": 264.6, "t": "2"}]},
          "mark": {"type": "text", "font": "Liberation Serif", "fontWeight": "bold", "fontSize": 22, "align": "left", "baseline": "alphabetic", "color": "#000"},
          "encoding": {"x": {"field": "e", "type": "quantitative"}, "y": {"field": "v", "type": "quantitative"}, "text": {"field": "t"}}
        }
      ]
    }
  ]
}
